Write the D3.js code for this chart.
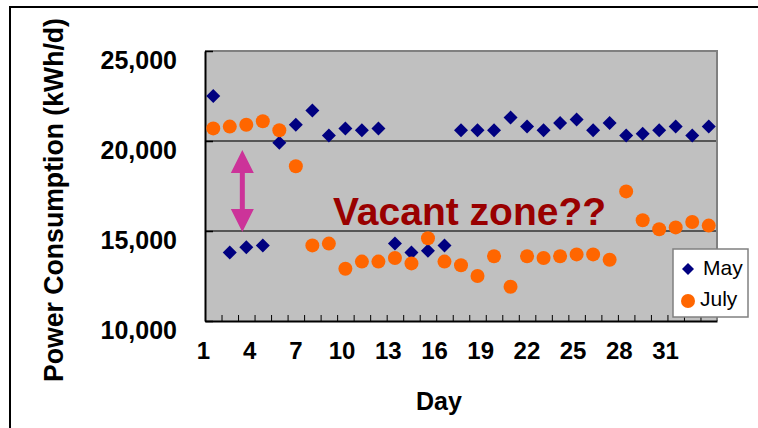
<!DOCTYPE html>
<html>
<head>
<meta charset="utf-8">
<script src="https://cdn.jsdelivr.net/npm/d3@7"></script>
<style>
	body { margin: 0; background: #fff; }
	svg text { font-family: "Liberation Sans", Arial, sans-serif; }
</style>
</head>
<body>
<svg width="758" height="428"></svg>
<script>
// daily power consumption (kWh/d)
var days = d3.range(1, 32);
var mayValues = [22500, 13800, 14100, 14200, 19900, 20900, 21700, 20300, 20700, 20600,
	20700, 14300, 13800, 13900, 14200, 20600, 20600, 20600, 21300, 20800,
	20600, 21000, 21200, 20600, 21000, 20300, 20400, 20600, 20800, 20300, 20800];
var julyValues = [20700, 20800, 20900, 21100, 20600, 18600, 14200, 14300, 12900, 13300,
	13300, 13500, 13200, 14600, 13300, 13100, 12500, 13600, 11900, 13600,
	13500, 13600, 13700, 13700, 13400, 17200, 15600, 15100, 15200, 15500, 15300];
var dayLabels = [1, 4, 7, 10, 13, 16, 19, 22, 25, 28, 31];
var yTicks = [10000, 15000, 20000, 25000];
var seriesNames = ['May', 'July'];

var svg = d3.select('svg');
var plotL = 205, plotR = 717, plotT = 51, plotB = 321;

var x = d3.scaleLinear().domain([0.5, 31.5]).range([plotL, plotR]);
var y = d3.scaleLinear().domain([10000, 25000]).range([plotB, plotT]);
// the day numbers under the axis sit a bit tighter than the categories
var xLabel = d3.scaleLinear().domain([1, 31]).range([203, 665]);

// outer frame (only top and left edges are visible)
svg.append('rect')
	.attr('x', 10).attr('y', 7)
	.attr('width', 770).attr('height', 440)
	.attr('fill', 'none')
	.attr('stroke', '#000')
	.attr('stroke-width', 2);

// plot area
svg.append('rect')
	.attr('x', plotL).attr('y', plotT)
	.attr('width', plotR - plotL).attr('height', plotB - plotT)
	.attr('fill', '#c0c0c0');

svg.append('g')
	.selectAll('line')
	.data([15000, 20000])
	.join('line')
	.attr('x1', plotL).attr('x2', plotR)
	.attr('y1', function(d) { return y(d); })
	.attr('y2', function(d) { return y(d); })
	.attr('stroke', '#333')
	.attr('stroke-width', 1.5);

// gray top/right border
svg.append('path')
	.attr('d', 'M' + plotL + ',' + plotT + 'H' + plotR + 'V' + plotB)
	.attr('fill', 'none')
	.attr('stroke', '#808080')
	.attr('stroke-width', 2);

// y axis
var yAxis = svg.append('g')
	.attr('transform', 'translate(' + plotL + ',0)')
	.call(d3.axisLeft(y)
		.tickValues(yTicks)
		.tickSizeInner(-8)
		.tickSizeOuter(0)
		.tickPadding(28)
		.tickFormat(d3.format(',')));
yAxis.select('.domain').attr('stroke', '#000').attr('stroke-width', 2);
yAxis.selectAll('.tick line').attr('stroke', '#000').attr('stroke-width', 1.5);
yAxis.selectAll('text')
	.attr('dy', '0.68em')
	.attr('font-size', 25)
	.attr('font-weight', 'bold')
	.attr('fill', '#000')
	.style('font-family', '"Liberation Sans", Arial, sans-serif');

// x axis: ticks between the days
var xAxis = svg.append('g')
	.attr('transform', 'translate(0,' + plotB + ')')
	.call(d3.axisBottom(x)
		.tickValues(d3.range(1.5, 31, 1))
		.tickSizeInner(-6)
		.tickSizeOuter(0)
		.tickFormat(''));
xAxis.select('.domain').attr('stroke', '#000').attr('stroke-width', 2);
xAxis.selectAll('.tick line').attr('stroke', '#000');

var xLabels = svg.append('g')
	.attr('transform', 'translate(0,' + plotB + ')')
	.call(d3.axisBottom(xLabel)
		.tickValues(dayLabels)
		.tickSize(0)
		.tickPadding(21));
xLabels.select('.domain').remove();
xLabels.selectAll('text')
	.attr('font-size', 24)
	.attr('font-weight', 'bold')
	.attr('fill', '#000')
	.style('font-family', '"Liberation Sans", Arial, sans-serif');

// axis titles
svg.append('text')
	.attr('x', 439).attr('y', 410)
	.attr('text-anchor', 'middle')
	.attr('font-size', 25)
	.attr('font-weight', 'bold')
	.text('Day');

svg.append('text')
	.attr('transform', 'translate(63,200) rotate(-90)')
	.attr('text-anchor', 'middle')
	.attr('font-size', 27)
	.attr('font-weight', 'bold')
	.attr('textLength', 364)
	.attr('lengthAdjust', 'spacingAndGlyphs')
	.text('Power Consumption (kWh/d)');

// points
var diamond = d3.symbol().type(d3.symbolSquare).size(98);

svg.append('g')
	.selectAll('path')
	.data(days)
	.join('path')
	.attr('d', diamond)
	.attr('transform', function(d, i) {
		return 'translate(' + x(d) + ',' + y(mayValues[i]) + ') rotate(45)';
	})
	.attr('fill', '#000080');

svg.append('g')
	.selectAll('circle')
	.data(days)
	.join('circle')
	.attr('cx', function(d) { return x(d); })
	.attr('cy', function(d, i) { return y(julyValues[i]); })
	.attr('r', 7)
	.attr('fill', '#ff6600');

// double arrow showing the gap
var ax = x(2.76), aTop = y(19500), aBot = y(14950);
var head = 23, half = 11.5, shaft = 2.5;
svg.append('path')
	.attr('d', 'M' + ax + ',' + aTop +
		'L' + (ax + half) + ',' + (aTop + head) +
		'H' + (ax + shaft) + 'V' + (aBot - head) +
		'H' + (ax + half) + 'L' + ax + ',' + aBot +
		'L' + (ax - half) + ',' + (aBot - head) +
		'H' + (ax - shaft) + 'V' + (aTop + head) +
		'H' + (ax - half) + 'Z')
	.attr('fill', '#cc3399');

svg.append('text')
	.attr('x', x(8.25)).attr('y', y(15330))
	.attr('font-size', 39)
	.attr('font-weight', 'bold')
	.attr('fill', '#990000')
	.text('Vacant zone??');

// legend
var legend = svg.append('g').attr('transform', 'translate(673,249)');
legend.append('rect')
	.attr('width', 75).attr('height', 68)
	.attr('fill', '#fff')
	.attr('stroke', '#808080')
	.attr('stroke-width', 1.5);
legend.append('path')
	.attr('d', d3.symbol().type(d3.symbolSquare).size(72))
	.attr('transform', 'translate(15,20) rotate(45)')
	.attr('fill', '#000080');
legend.append('circle')
	.attr('cx', 15).attr('cy', 52)
	.attr('r', 7)
	.attr('fill', '#ff6600');
legend.selectAll('text.name')
	.data(seriesNames)
	.join('text')
	.attr('class', 'name')
	.attr('x', function(d, i) { return i === 0 ? 30 : 27; })
	.attr('y', function(d, i) { return i === 0 ? 26 : 57; })
	.attr('font-size', 21)
	.attr('fill', '#000')
	.text(function(d) { return d; });
</script>
</body>
</html>
